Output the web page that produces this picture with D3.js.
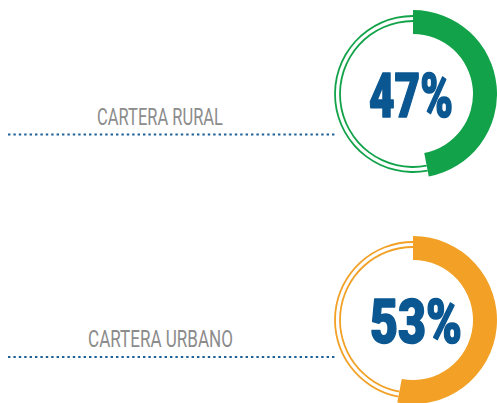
<!DOCTYPE html>
<html>
<head>
<meta charset="utf-8">
<script src="https://cdn.jsdelivr.net/npm/d3@7"></script>
<style>
  html, body { margin: 0; padding: 0; background: #fff; }
  svg { display: block; }
</style>
</head>
<body>
<svg id="chart"></svg>
<script>
const categories = ["CARTERA RURAL", "CARTERA URBANO"]
const values = [47, 53]
const valueLabels = ["47%", "53%"]
const ringColors = ["#12a34a", "#f2a126"]

const width = 497, height = 403
const svg = d3.select("#chart").attr("width", width).attr("height", height)

// ring layout
const cx = 413
const centersY = [94, 320]
const outerR = 84, innerR = 60
const thinR = [78, 73]

const angle = d3.scaleLinear().domain([0, 100]).range([0, 2 * Math.PI])

const thick = d3.arc().innerRadius(innerR).outerRadius(outerR)

categories.forEach((cat, i) => {
  const g = svg.append("g").attr("transform", `translate(${cx},${centersY[i]})`)
  const a = angle(values[i])

  // dotted leader line
  const ly0 = centersY[i] + [40.5, 37][i]
  svg.append("line")
    .attr("x1", 8).attr("x2", 337)
    .attr("y1", ly0).attr("y2", ly0)
    .attr("stroke", "#1d6199")
    .attr("stroke-width", 2.2)
    .attr("stroke-dasharray", "2.4 3")

  // thin double ring for the remainder
  thinR.forEach(r => {
    g.append("path")
      .attr("d", d3.arc().innerRadius(r - 0.9).outerRadius(r + 0.9)
        .startAngle(a).endAngle(2 * Math.PI)())
      .attr("fill", ringColors[i])
  })

  // thick arc for the value
  g.append("path")
    .attr("d", thick.startAngle(0).endAngle(a)())
    .attr("fill", ringColors[i])

  // percent label, condensed by scaling
  const t = g.append("text")
    .attr("text-anchor", "middle")
    .attr("font-family", "Roboto, 'Liberation Sans', sans-serif")
    .attr("font-weight", 900)
    .attr("font-size", 61)
    .attr("fill", "#0b5791")
    .attr("stroke", "#0b5791")
    .attr("stroke-width", 1.6)
    .attr("stroke-linejoin", "round")
    .text(valueLabels[i])
  const tw = [84, 92][i]
  const bb = t.node().getBBox()
  const dx = [-2, 3][i]
  t.attr("transform", `translate(${dx},${22.5}) scale(${tw / bb.width},1)`)

  // category label
  const lab = svg.append("text")
    .attr("text-anchor", "middle")
    .attr("font-family", "Roboto, 'Liberation Sans', sans-serif")
    .attr("font-weight", 400)
    .attr("font-size", 24)
    .attr("fill", "#8c8c8c")
    .text(cat)
  const lw = [126, 145][i]
  const lb = lab.node().getBBox()
  const lx = [160, 160.5][i]
  const ly = centersY[i] + [31, 27][i]
  lab.attr("transform", `translate(${lx},${ly}) scale(${lw / lb.width},1)`)
})
</script>
</body>
</html>
